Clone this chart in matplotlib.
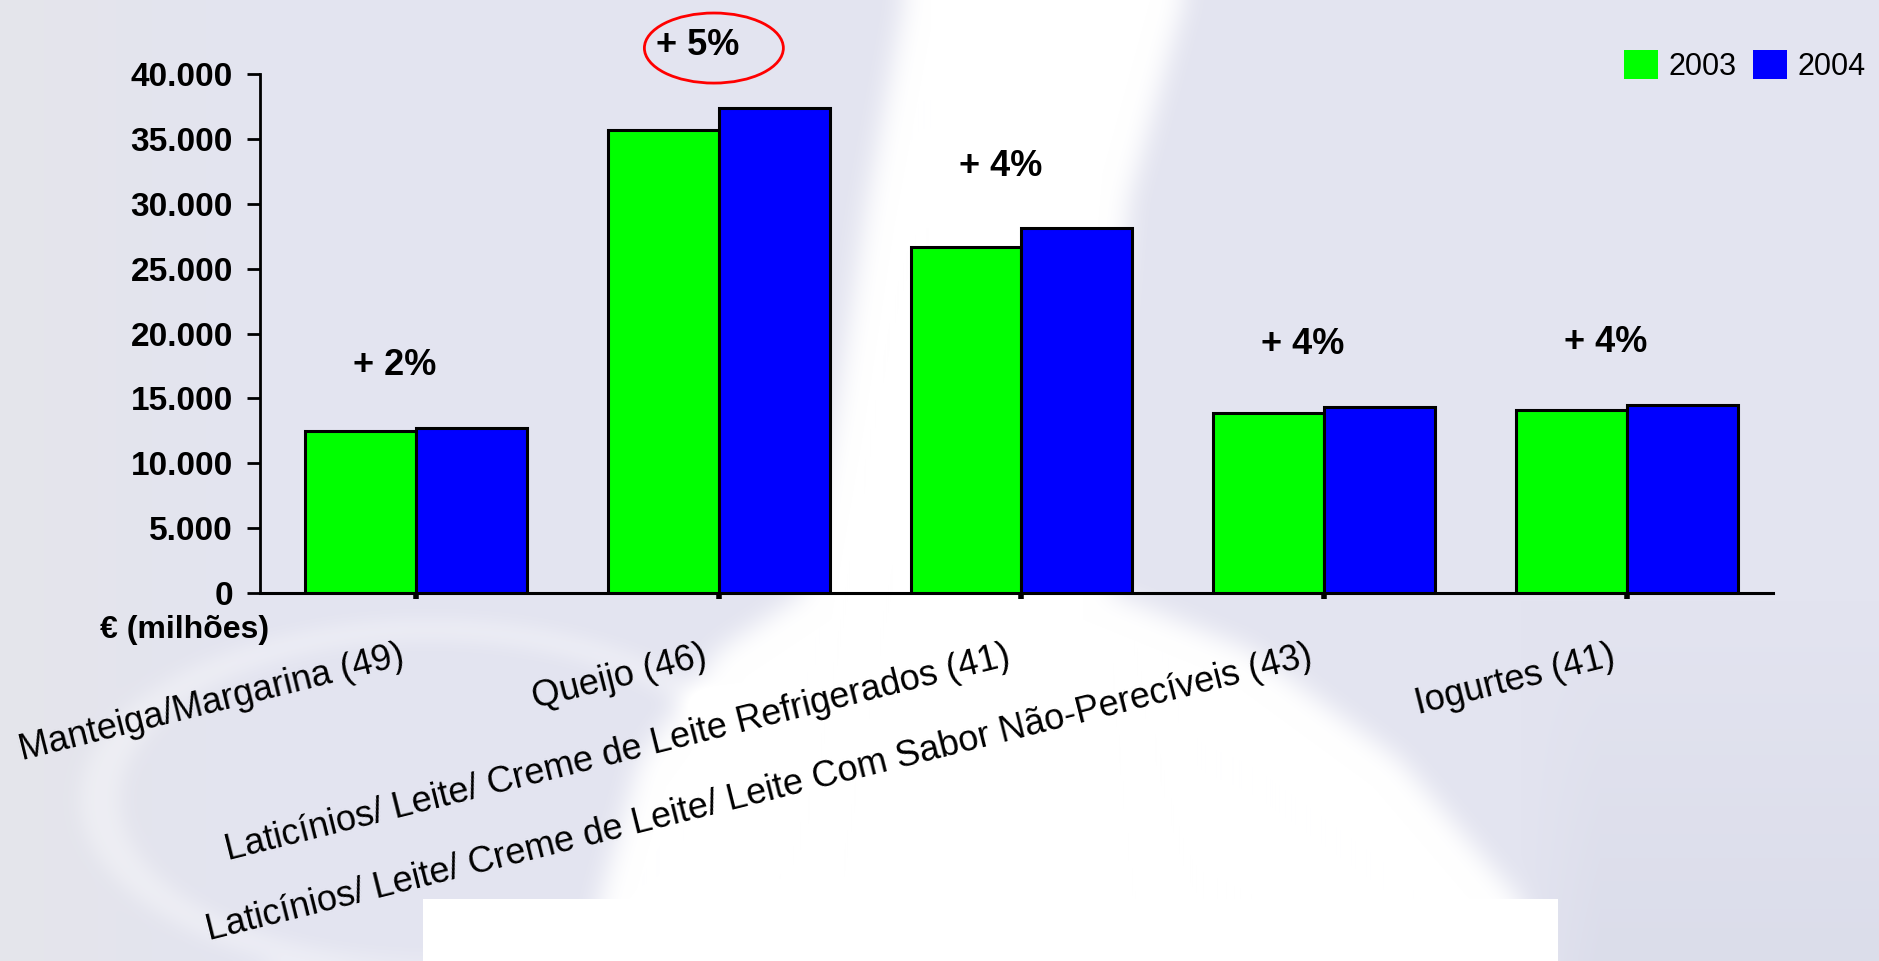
import numpy as np
import matplotlib
matplotlib.use('Agg')
import matplotlib.pyplot as plt
import matplotlib.patches as mpatches
import matplotlib.colors as mcolors
from matplotlib.ticker import FuncFormatter

plt.rcParams['font.family'] = ['Liberation Sans', 'DejaVu Sans']

# dados (milhões de euros)
categorias = [
    'Manteiga/Margarina (49)',
    'Queijo (46)',
    'Laticínios/ Leite/ Creme de Leite Refrigerados (41)',
    'Laticínios/ Leite/ Creme de Leite/ Leite Com Sabor Não-Perecíveis (43)',
    'Iogurtes (41)',
]
anos = ['2003', '2004']
valores_2003 = [12450, 35700, 26700, 13900, 14100]
valores_2004 = [12700, 37400, 28100, 14350, 14500]
crescimento = ['+ 2%', '+ 5%', '+ 4%', '+ 4%', '+ 4%']
destaque = 1  # categoria com o círculo vermelho

VERDE = '#00ff00'
AZUL = '#0000ff'
FUNDO = '#e3e4f0'

W, H = 1879, 961


def suavizar(m, k):
    # desfoque de caixa separável, aplicado duas vezes
    for _ in range(2):
        c = np.cumsum(np.pad(m, ((0, 0), (k, k)), mode='edge'), axis=1)
        m = (c[:, 2 * k:] - c[:, :-2 * k]) / (2 * k)
        m = m[:, :W]
        c = np.cumsum(np.pad(m, ((k, k), (0, 0)), mode='edge'), axis=0)
        m = (c[2 * k:, :] - c[:-2 * k, :]) / (2 * k)
        m = m[:H, :]
    return m


def fundo_leite():
    yy, xx = np.mgrid[0:H, 0:W]
    img = np.ones((H, W, 3)) * np.array(mcolors.to_rgb(FUNDO))
    # faixa da esquerda mais cinzenta
    cinza = np.clip((260 - xx) / 260.0, 0, 1) * 0.6
    img = img * (1 - cinza[..., None]) + np.array(mcolors.to_rgb('#e6e6e8')) * cinza[..., None]
    # canto inferior direito um pouco mais escuro
    escuro = np.clip((yy - 600) / 360.0, 0, 1) * np.clip((xx - 1520) / 80.0, 0, 1) * 0.7
    img = img * (1 - escuro[..., None]) + np.array(mcolors.to_rgb('#d8dae8')) * escuro[..., None]

    # jato de leite
    ky = [0, 200, 400, 593, 650, 760, 900, 961]
    kl = [905, 868, 838, 805, 720, 640, 600, 590]
    kr = [1185, 1130, 1112, 1110, 1250, 1400, 1520, 1540]
    esq = np.interp(np.arange(H), ky, kl)
    dir_ = np.interp(np.arange(H), ky, kr)
    jato = ((xx >= esq[yy]) & (xx <= dir_[yy])).astype(float)
    # anel do copo
    anel = np.abs(((xx - 430) / 330.0) ** 2 + ((yy - 800) / 170.0) ** 2 - 1) < 0.12
    m = suavizar(jato, 14) + 0.35 * suavizar(anel.astype(float), 10)
    m = np.clip(m, 0, 1)
    img = img * (1 - m[..., None]) + m[..., None]

    img[899:, 423:1558] = 1.0
    return img


fig = plt.figure(figsize=(W / 100, H / 100), dpi=100)
bg = fig.add_axes([0, 0, 1, 1], zorder=-1)
bg.imshow(fundo_leite(), extent=[0, W, H, 0], aspect='auto', interpolation='bilinear')
bg.axis('off')

ax = fig.add_axes([260 / W, (H - 593) / H, (1773 - 260) / W, (593 - 74) / H])
ax.set_facecolor('none')

x = np.arange(len(categorias))
larg = 0.366
ax.bar(x - larg / 2, valores_2003, larg, color=VERDE, edgecolor='black',
       linewidth=2.2, label=anos[0], zorder=3)
ax.bar(x + larg / 2, valores_2004, larg, color=AZUL, edgecolor='black',
       linewidth=2.2, label=anos[1], zorder=3)

ax.set_xlim(-0.515, 4.482)
ax.set_ylim(0, 40000)
ax.set_yticks(np.arange(0, 40001, 5000))
ax.yaxis.set_major_formatter(FuncFormatter(lambda v, p: f'{v:,.0f}'.replace(',', '.')))
ax.tick_params(axis='y', length=9.5, width=2, pad=10, labelsize=24)
for t in ax.get_yticklabels():
    t.set_fontweight('bold')
ax.set_xticks(x)
ax.set_xticklabels([])
ax.tick_params(axis='x', length=4, width=4)
for lado in ['top', 'right']:
    ax.spines[lado].set_visible(False)
ax.spines['left'].set_linewidth(2)
ax.spines['bottom'].set_linewidth(2.2)

# rótulos das categorias, inclinados
for i, nome in enumerate(categorias):
    ax.text(i - 0.04, -0.12, nome, transform=ax.get_xaxis_transform(),
            rotation=14, rotation_mode='anchor', ha='right', va='center',
            fontsize=26, color='black')

# crescimento por categoria
for i, txt in enumerate(crescimento):
    topo = max(valores_2003[i], valores_2004[i])
    ax.text(i - 0.07, topo + 4800, txt, ha='center', va='center',
            fontsize=26, fontweight='bold', clip_on=False)

topo = max(valores_2003[destaque], valores_2004[destaque])
ax.add_patch(mpatches.Ellipse((destaque - 0.016, topo + 4600), 0.459, 5400,
                              fill=False, edgecolor='red', linewidth=2, clip_on=False))

fig.text(100 / W, 1 - 630 / H, '€ (milhões)', ha='left', va='center',
         fontsize=23, fontweight='bold')

handles = [mpatches.Patch(facecolor=VERDE, edgecolor='none', label=anos[0]),
           mpatches.Patch(facecolor=AZUL, edgecolor='none', label=anos[1])]
fig.legend(handles=handles, loc='upper left', bbox_to_anchor=(1624 / W, 1 - 50 / H),
           ncol=2, frameon=False, fontsize=22, borderpad=0, borderaxespad=0,
           handlelength=1.1, handleheight=1.1, handletextpad=0.35, columnspacing=0.55)

fig.savefig('out.png', dpi=100)
